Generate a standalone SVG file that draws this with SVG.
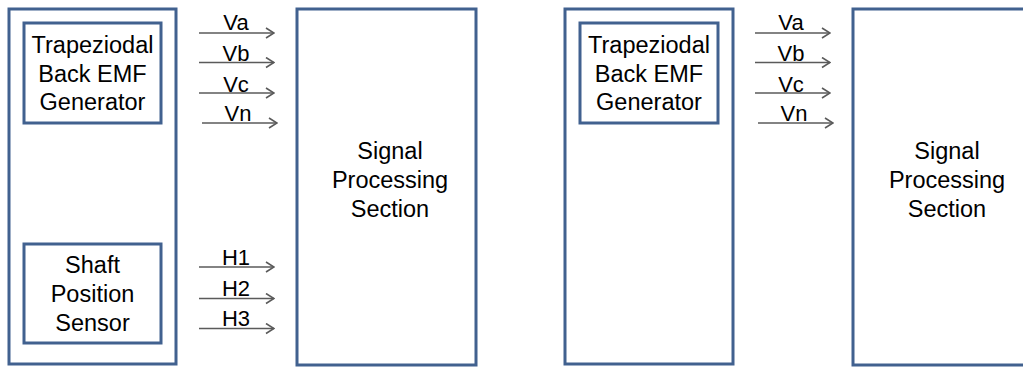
<svg xmlns="http://www.w3.org/2000/svg" width="1023" height="367" viewBox="0 0 1023 367">
  <defs>
    <style>
      .box { fill: #ffffff; stroke: #41618f; stroke-width: 3; }
      .lbl { font-family: "Liberation Sans", Arial, sans-serif; font-size: 23.5px; fill: #000000; text-anchor: middle; }
      .sig { font-family: "Liberation Sans", Arial, sans-serif; font-size: 22px; fill: #000000; text-anchor: middle; }
      .wire { stroke: #5a5a5a; stroke-width: 1.6; fill: none; marker-end: url(#arrow); }
    </style>
    <marker id="arrow" viewBox="0 0 10 12" refX="9" refY="6" markerWidth="10" markerHeight="12" markerUnits="userSpaceOnUse" orient="auto">
      <path d="M1,1 L9,6 L1,11" fill="none" stroke="#5a5a5a" stroke-width="1.6"/>
    </marker>
  </defs>
  <rect width="1023" height="367" fill="#ffffff"/>

  <!-- left panel: generator with shaft sensor -->
  <g id="motor-left">
    <rect class="box" x="9" y="9" width="167" height="355"/>
  </g>
  <g id="emf-left">
    <rect class="box" x="24" y="23" width="137" height="100"/>
    <text class="lbl" x="92.5" y="53">Trapeziodal</text>
    <text class="lbl" x="92.5" y="82">Back EMF</text>
    <text class="lbl" x="92.5" y="110">Generator</text>
  </g>
  <g id="shaft-left">
    <rect class="box" x="24" y="244" width="137" height="99"/>
    <text class="lbl" x="92.5" y="273">Shaft</text>
    <text class="lbl" x="92.5" y="302">Position</text>
    <text class="lbl" x="92.5" y="331">Sensor</text>
  </g>
  <g id="dsp-left">
    <rect class="box" x="297" y="9" width="179" height="356"/>
    <text class="lbl" x="390" y="159">Signal</text>
    <text class="lbl" x="390" y="188">Processing</text>
    <text class="lbl" x="390" y="217">Section</text>
  </g>

  <!-- right panel: generator only -->
  <g id="motor-right">
    <rect class="box" x="565" y="9" width="168" height="355"/>
  </g>
  <g id="emf-right">
    <rect class="box" x="580" y="23" width="138" height="100"/>
    <text class="lbl" x="649" y="53">Trapeziodal</text>
    <text class="lbl" x="649" y="82">Back EMF</text>
    <text class="lbl" x="649" y="110">Generator</text>
  </g>
  <g id="dsp-right">
    <rect class="box" x="853" y="9" width="179" height="356"/>
    <text class="lbl" x="947" y="159">Signal</text>
    <text class="lbl" x="947" y="188">Processing</text>
    <text class="lbl" x="947" y="217">Section</text>
  </g>

  <!-- connectors -->
  <g id="connectors">
    <path class="wire" d="M199,33 H274"/>
    <path class="wire" d="M199,62.5 H274"/>
    <path class="wire" d="M199,93 H274"/>
    <path class="wire" d="M202,123 H277"/>
    <path class="wire" d="M199,267 H274"/>
    <path class="wire" d="M199,298.5 H274"/>
    <path class="wire" d="M199,328.5 H274"/>

    <path class="wire" d="M755,33 H830"/>
    <path class="wire" d="M755,62.5 H830"/>
    <path class="wire" d="M755,93 H830"/>
    <path class="wire" d="M758,123 H833"/>
  </g>

  <!-- signal labels -->
  <g id="signal-labels">
    <text class="sig" x="236" y="29.5">Va</text>
    <text class="sig" x="236" y="61">Vb</text>
    <text class="sig" x="236" y="91.5">Vc</text>
    <text class="sig" x="238" y="121">Vn</text>
    <text class="sig" x="236" y="265">H1</text>
    <text class="sig" x="236" y="296">H2</text>
    <text class="sig" x="236" y="326">H3</text>

    <text class="sig" x="791" y="29.5">Va</text>
    <text class="sig" x="791" y="61">Vb</text>
    <text class="sig" x="791" y="91.5">Vc</text>
    <text class="sig" x="794" y="121">Vn</text>
  </g>
</svg>
